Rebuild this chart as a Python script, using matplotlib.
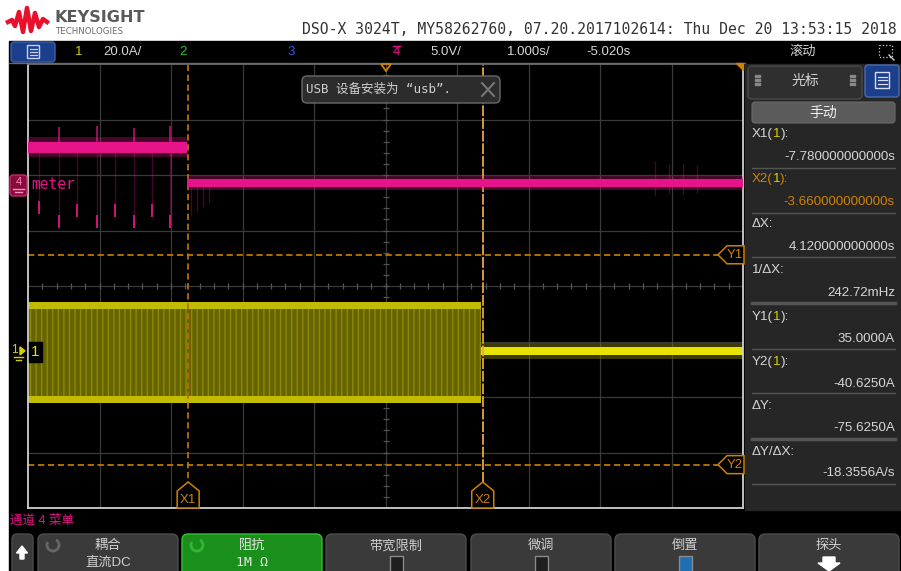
import numpy as np
import matplotlib.pyplot as plt
from matplotlib.patches import Rectangle, FancyBboxPatch, Polygon, Arc

plt.rcParams['font.family'] = ['Liberation Sans', 'Noto Sans CJK SC', 'DejaVu Sans']
plt.rcParams['hatch.linewidth'] = 1.0

# scope settings
time_per_div = 1.0          # s/div
time_center = -5.020        # s
ch1_scale = 20.0            # A/div
ch1_center = 23.75          # A at screen centre
ch4_scale = 5.0             # V/div
ch4_center = -9.1           # V at screen centre

# cursors
x1_cursor = -7.78
x2_cursor = -3.66
y1_cursor = 35.0
y2_cursor = -40.625

# channel 1 (current probe): burst until relay opens, then idle
ch1_burst_end = -3.69
ch1_burst_hi = 18.0
ch1_burst_lo = -18.4
ch1_idle_level = 0.4
ch1_idle_half = 1.4

# channel 4 (meter supply)
ch4_step_time = -7.79
ch4_high = 3.4
ch4_low = 0.2
ch4_spike_t = [-9.86, -9.58, -9.34, -9.06, -8.81, -8.54, -8.29, -8.03]
ch4_spike_min = [-2.6, -3.9, -2.9, -3.9, -2.9, -3.9, -2.9, -3.9]
ch4_up_t = [-9.58, -9.06, -8.54, -8.03]
ch4_up_max = [5.2, 5.3, 5.1, 5.3]
ch4_faint_t = [-7.74, -7.66, -7.57, -7.49, -1.25, -1.05, -0.86, -0.66]
ch4_faint_min = [-2.7, -2.4, -2.0, -1.6, -1.0, -0.8, -0.9, -0.7]
ch4_faint_max = [0.2, 0.2, 0.2, 0.2, 2.2, 1.9, 2.0, 1.8]

W, H = 901, 571
PINK = '#e6138a'
ORANGE = '#cf8200'
TXT = '#d6d6d6'
UI = ['Liberation Sans', 'Noto Sans CJK SC']
MONO = ['DejaVu Sans Mono', 'Noto Sans CJK SC']

fig = plt.figure(figsize=(W / 100, H / 100), dpi=100)
fig.patch.set_facecolor('white')


def rect(x0, y0, x1, y1):
    return [x0 / W, 1 - y1 / H, (x1 - x0) / W, (y1 - y0) / H]


bg = fig.add_axes([0, 0, 1, 1])
bg.set_xlim(0, W)
bg.set_ylim(H, 0)
bg.axis('off')
bg.set_zorder(0)

# ---- header ----
logo_x = [8, 12, 15, 19, 23, 27, 31, 35, 39, 43, 47]
logo_y = [22, 20, 26, 12, 32, 8, 31, 13, 27, 19, 22]
bg.plot(logo_x, logo_y, color='#e8102a', lw=3.2, solid_joinstyle='round')
bg.text(55, 17, 'KEYSIGHT', fontsize=11.6, fontweight='bold', color='#5a5a5a',
        va='center', family='DejaVu Sans')
bg.text(56, 31, 'TECHNOLOGIES', fontsize=6.2, color='#6a6a6a', va='center',
        family='DejaVu Sans')
bg.text(302, 30, 'DSO-X 3024T, MY58262760, 07.20.2017102614: Thu Dec 20 13:53:15 2018',
        fontsize=10.6, family='DejaVu Sans Mono', color='#333333', va='center')

# screen
bg.add_patch(Rectangle((9, 41), W - 9, H - 41, color='black'))

# ---- status bar ----
bg.add_patch(FancyBboxPatch((11, 42), 44, 20, boxstyle='round,pad=0,rounding_size=3',
                            fc='#1c3f8c', ec='#3b5fa8', lw=1))
bg.add_patch(Rectangle((27, 45), 12, 13, fc='none', ec='#c8d0e8', lw=1))
for yy in (49, 52, 55):
    bg.plot([29.5, 36.5], [yy, yy], color='#c8d0e8', lw=0.9)
bg.text(75, 52, '1', color='#d4d000', fontsize=9.5, va='center')
bg.text(103, 52, '20.0A/', color=TXT, fontsize=9.5, va='center')
bg.text(179, 52, '2', color='#2ec02e', fontsize=9.5, va='center')
bg.text(287, 52, '3', color='#3355e0', fontsize=9.5, va='center')
bg.text(393, 52, '4', color=PINK, fontsize=9.5, va='center')
bg.plot([393, 400], [45.5, 45.5], color=PINK, lw=1)
bg.text(430, 52, '5.0V/', color=TXT, fontsize=9.5, va='center')
bg.text(507, 52, '1.000s/', color=TXT, fontsize=9.5, va='center')
bg.text(586, 52, '-5.020s', color=TXT, fontsize=9.5, va='center')
bg.text(790, 52, '滚动', color=TXT, fontsize=9.5, va='center')
bg.add_patch(Rectangle((879, 45), 13, 12, fc='none', ec='#d0d0d0', lw=0.9, ls=':'))
bg.plot([889, 894], [55, 60], color='#d0d0d0', lw=1)
bg.plot([9, 745], [63, 63], color='#6a6a6a', lw=1)

# ---- cursor panel ----
bg.add_patch(Rectangle((745, 64), W - 745, 446, color='#262626'))
bg.add_patch(FancyBboxPatch((748, 66), 114, 33, boxstyle='round,pad=0,rounding_size=4',
                            fc='#2f2f2f', ec='#4a4a4a', lw=1))
bg.text(805, 81, '光标', color=TXT, fontsize=10, ha='center', va='center')
for gx in (756, 759, 851, 854):
    bg.scatter([gx, gx, gx], [76, 80, 84], s=1.2, color='#888888', marker='s')
bg.add_patch(FancyBboxPatch((865, 65), 34, 32, boxstyle='round,pad=0,rounding_size=3',
                            fc='#1c3f8c', ec='#4a6ab0', lw=1))
bg.add_patch(Rectangle((875, 72), 14, 16, fc='none', ec='#d8def0', lw=1))
for yy in (76.5, 80, 83.5):
    bg.plot([877.5, 886.5], [yy, yy], color='#d8def0', lw=0.9)
bg.add_patch(FancyBboxPatch((752, 102), 143, 21, boxstyle='round,pad=0,rounding_size=3',
                            fc='#5b5b5b', ec='#6a6a6a', lw=0.8))
bg.text(823, 112.5, '手动', color='#f0f0f0', fontsize=10, ha='center', va='center')

dx = x2_cursor - x1_cursor
dy = y2_cursor - y1_cursor


def label(y, parts):
    t = bg.text(752, y, parts[0][0], color=parts[0][1], fontsize=9.6, va='center')
    for s, c in parts[1:]:
        t = bg.annotate(s, xy=(1, 0), xycoords=t, color=c, fontsize=9.6, va='bottom')


def value(y, s, color=TXT):
    bg.text(895, y, s, color=color, fontsize=9.6, ha='right', va='center')


YEL = '#d4d000'
label(134, [('X1(', TXT), ('1', YEL), ('):', TXT)])
value(157, f'{x1_cursor:.12f}s')
label(179, [('X2(', ORANGE), ('1', YEL), ('):', ORANGE)])
value(202, f'{x2_cursor:.12f}s', ORANGE)
label(224, [('ΔX:', TXT)])
value(247, f'{dx:.12f}s')
label(270, [('1/ΔX:', TXT)])
value(293, f'{1000 / dx:.2f}mHz')
label(317, [('Y1(', TXT), ('1', YEL), ('):', TXT)])
value(339, f'{y1_cursor:.4f}A')
label(362, [('Y2(', TXT), ('1', YEL), ('):', TXT)])
value(384, f'{y2_cursor:.4f}A')
label(406, [('ΔY:', TXT)])
value(428, f'{dy:.4f}A')
label(452, [('ΔY/ΔX:', TXT)])
value(473, f'{dy / dx:.4f}A/s')
for yy, lw in [(168, 1), (213, 1), (257, 1), (303, 2.5), (349, 1), (393, 1), (439, 2.5), (484, 1)]:
    bg.plot([752, 895], [yy, yy], color='#555555', lw=lw)

# ---- soft keys ----
bg.text(10, 521, '通道 4 菜单', color=PINK, fontsize=9, va='center')
bg.add_patch(FancyBboxPatch((12, 534), 21, 45, boxstyle='round,pad=0,rounding_size=5',
                            fc='#3a3a3a', ec='#4a4a4a'))
bg.add_patch(Polygon([[22, 546], [16.5, 553], [20, 553], [20, 559], [24, 559], [24, 553],
                      [27.5, 553]], color='white'))
keys = [(38, '耦合', '直流DC'), (182, '阻抗', '1M Ω'), (326, '带宽限制', None),
        (471, '微调', None), (615, '倒置', None), (759, '探头', None)]
for i, (kx, t1, t2) in enumerate(keys):
    green = i == 1
    bg.add_patch(FancyBboxPatch((kx, 534), 140, 45, boxstyle='round,pad=0,rounding_size=6',
                                fc='#1b8f1b' if green else '#3a3a3a',
                                ec='#35c035' if green else '#4c4c4c', lw=1))
    bg.text(kx + 70, 546, t1, color='#e8e8e8' if green else '#d0d0d0', fontsize=9.5,
            ha='center', va='center')
    if t2:
        bg.text(kx + 70, 563, t2, color='#e8e8e8' if green else '#d0d0d0', fontsize=9.5,
                ha='center', va='center', family=MONO if i == 1 else UI)
    if i < 2:
        bg.add_patch(Arc((kx + 15, 545), 12, 12, theta1=-60, theta2=210,
                         color='#35b535' if green else '#666666', lw=2))
    if i in (2, 3, 4):
        bg.add_patch(Rectangle((kx + 64, 556), 13, 18, fc='#1f6fb5' if i == 4 else '#1e1e1e',
                               ec='#8a8a8a', lw=1))
    if i == 5:
        bg.add_patch(Polygon([[kx + 64, 557], [kx + 76, 557], [kx + 76, 563], [kx + 81, 563],
                              [kx + 70, 571], [kx + 59, 563], [kx + 64, 563]], color='white'))

# ---- graticule ----
ax = fig.add_axes(rect(28, 64, 743, 508))
ax.set_zorder(1)
ax.set_facecolor('black')
ax.set_xlim(time_center - 5 * time_per_div, time_center + 5 * time_per_div)
ax.set_ylim(ch1_center - 4 * ch1_scale, ch1_center + 4 * ch1_scale)
ax.set_xticks([])
ax.set_yticks([])
for side, c in [('left', '#d0d0d0'), ('bottom', '#d0d0d0'), ('right', '#d0d0d0'),
                ('top', '#6a6a6a')]:
    ax.spines[side].set_color(c)
    ax.spines[side].set_linewidth(1.3)
for i in range(1, 10):
    ax.plot([i / 10, i / 10], [0, 1], transform=ax.transAxes, color='#3a3a3a', lw=0.9,
            zorder=0.5)
for j in range(1, 8):
    ax.plot([0, 1], [j / 8, j / 8], transform=ax.transAxes, color='#3a3a3a', lw=0.9,
            zorder=0.5)
ax.plot(np.full(39, 0.5), np.linspace(0, 1, 41)[1:-1], transform=ax.transAxes,
        ls='none', marker='_', ms=4.5, color='#555555', mew=0.9, zorder=0.5)
ax.plot(np.linspace(0, 1, 51)[1:-1], np.full(49, 0.5), transform=ax.transAxes,
        ls='none', marker='|', ms=4.5, color='#555555', mew=0.9, zorder=0.5)

t0, t1 = ax.get_xlim()

# channel 1
burst_t = [t0, ch1_burst_end]
ax.fill_between(burst_t, ch1_burst_lo, ch1_burst_hi, color='#666400', hatch='|||',
                edgecolor='#8c8906', lw=0)
ax.fill_between(burst_t, ch1_burst_hi - 2.6, ch1_burst_hi, color='#c2bc00', lw=0)
ax.fill_between(burst_t, ch1_burst_lo, ch1_burst_lo + 2.6, color='#c2bc00', lw=0)
idle_t = [ch1_burst_end, t1]
ax.fill_between(idle_t, ch1_idle_level - 2.1 * ch1_idle_half,
                ch1_idle_level + 2.1 * ch1_idle_half, color='#7a7600', lw=0, alpha=0.5)
ax.fill_between(idle_t, ch1_idle_level - ch1_idle_half, ch1_idle_level + ch1_idle_half,
                color='#e8e200', lw=0)

# channel 4
ax4 = ax.twinx()
ax4.set_zorder(2)
ax4.patch.set_visible(False)
ax4.set_ylim(ch4_center - 4 * ch4_scale, ch4_center + 4 * ch4_scale)
ax4.set_yticks([])
for s in ax4.spines.values():
    s.set_visible(False)
ax4.vlines(ch4_faint_t, ch4_faint_min, ch4_faint_max, color=PINK, lw=1, alpha=0.3)
ax4.vlines(ch4_spike_t, np.array(ch4_spike_min) + 1.2, ch4_high, color=PINK, lw=1, alpha=0.3)
ax4.vlines(ch4_spike_t, ch4_spike_min, np.array(ch4_spike_min) + 1.2, color=PINK, lw=1.3)
ax4.vlines(ch4_up_t, ch4_high, ch4_up_max, color=PINK, lw=1.2, alpha=0.8)
high_t = [t0, ch4_step_time]
low_t = [ch4_step_time, t1]
ax4.fill_between(high_t, ch4_high - 0.9, ch4_high + 0.9, color=PINK, lw=0, alpha=0.3)
ax4.fill_between(high_t, ch4_high - 0.5, ch4_high + 0.5, color=PINK, lw=0)
ax4.fill_between(low_t, ch4_low - 0.65, ch4_low + 0.65, color=PINK, lw=0, alpha=0.3)
ax4.fill_between(low_t, ch4_low - 0.38, ch4_low + 0.38, color=PINK, lw=0)
ax4.text(0.005, 0 - (ch4_center - 4 * ch4_scale) / (8 * ch4_scale), 'meter',
         transform=ax4.transAxes, color=PINK, fontsize=10.5, family='DejaVu Sans Mono',
         va='center')

# cursors
dash = (0, (3.5, 2))
ax.axvline(x1_cursor, color='#b87000', lw=1.3, ls=dash)
ax.axvline(x2_cursor, color='#e6a640', lw=1.3, ls=(0, (6, 1)))
ax.axhline(y1_cursor, color='#c07800', lw=1.3, ls=dash)
ax.axhline(y2_cursor, color='#c07800', lw=1.3, ls=dash)

# ---- overlay: markers and popup ----
top = fig.add_axes([0, 0, 1, 1])
top.set_xlim(0, W)
top.set_ylim(H, 0)
top.axis('off')
top.set_zorder(5)


def to_px(axes, x, y):
    px, py = axes.transData.transform((x, y))
    return px, H - py


for name, xc in [('X1', x1_cursor), ('X2', x2_cursor)]:
    px, _ = to_px(ax, xc, 0)
    top.add_patch(Polygon([[px, 482], [px + 11, 491], [px + 11, 508], [px - 11, 508],
                           [px - 11, 491]], fc='black', ec=ORANGE, lw=1.1))
    top.text(px, 500, name, color=ORANGE, fontsize=9.5, ha='center', va='center')
for name, yc in [('Y1', y1_cursor), ('Y2', y2_cursor)]:
    _, py = to_px(ax, 0, yc)
    top.add_patch(Polygon([[718, py], [727, py - 9], [744, py - 9], [744, py + 9],
                           [727, py + 9]], fc='black', ec=ORANGE, lw=1.1))
    top.text(735, py, name, color=ORANGE, fontsize=9.5, ha='center', va='center')

# trigger / reference marks on top edge
top.add_patch(Polygon([[381, 64], [391, 64], [386, 71]], fc='none', ec=ORANGE, lw=1.3))
top.add_patch(Polygon([[736, 63], [743, 63], [743, 70]], color=ORANGE))

# channel ground markers
_, g4 = to_px(ax4, 0, 0)
top.add_patch(FancyBboxPatch((10, g4 - 10), 17, 21, boxstyle='round,pad=0,rounding_size=3',
                             fc='#8a0a3c', ec='#c0306a', lw=1))
top.text(18.5, g4 - 3, '4', color='#ff8cc0', fontsize=8, ha='center', va='center')
top.plot([13, 24], [g4 + 4, g4 + 4], color='#ff8cc0', lw=1)
top.plot([15, 22], [g4 + 7, g4 + 7], color='#ff8cc0', lw=1)
_, g1 = to_px(ax, 0, 0)
top.text(11, g1 - 2, '1', color='#d4d000', fontsize=8.5, va='center')
top.add_patch(Polygon([[20, g1 - 5], [25, g1 - 1], [20, g1 + 3]], color='#d4d000'))
top.plot([14, 23], [g1 + 5, g1 + 5], color='#d4d000', lw=1)
top.plot([16, 21], [g1 + 8, g1 + 8], color='#d4d000', lw=1)
top.add_patch(Rectangle((29, g1 - 10), 13, 20, color='black'))
top.text(31, g1, '1', color='#e8e000', fontsize=11, va='center')

# popup
top.add_patch(FancyBboxPatch((302, 76), 198, 27, boxstyle='round,pad=0,rounding_size=5',
                             fc='#2c2c2c', ec='#6a6a6a', lw=1))
top.text(306, 89.5, 'USB 设备安装为 “usb”.', color='#d0d0d0', fontsize=9, va='center',
         family=MONO)
top.plot([482, 494], [83, 96], color='#7a7a7a', lw=1.4)
top.plot([482, 494], [96, 83], color='#7a7a7a', lw=1.4)

fig.savefig('out.png', dpi=100, facecolor='white')
